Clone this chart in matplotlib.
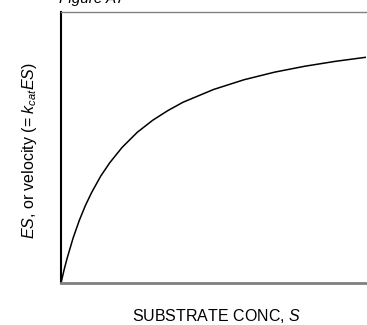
import matplotlib
matplotlib.use("Agg")
import matplotlib.pyplot as plt

plt.rcParams['font.family'] = ['Liberation Sans', 'DejaVu Sans']
plt.rcParams['mathtext.fontset'] = 'custom'
plt.rcParams['mathtext.it'] = 'Liberation Sans:italic'
plt.rcParams['mathtext.rm'] = 'Liberation Sans'

# Curve (substrate concentration vs ES / velocity), axis units 0..1
substrate = [0, 0.005, 0.01, 0.02, 0.04, 0.06, 0.08, 0.10, 0.13, 0.16, 0.20,
             0.25, 0.30, 0.35, 0.40, 0.50, 0.60, 0.70, 0.80, 0.90, 1.00]
velocity = [0, 0.024, 0.048, 0.091, 0.167, 0.231, 0.286, 0.333, 0.394, 0.444, 0.500,
            0.556, 0.600, 0.636, 0.667, 0.714, 0.750, 0.778, 0.800, 0.818, 0.833]

title_text = "Figure A7"
xlabel_text = "SUBSTRATE CONC, $S$"
ylabel_text = "$ES$, or velocity (= $k_{cat}ES$)"

W, H = 367, 325
fig = plt.figure(figsize=(W / 100, H / 100), dpi=100)
ax = fig.add_axes([61/W, 42/H, 305/W, 271/H])

ax.plot(substrate, velocity, color='black', lw=1.1, solid_capstyle='butt')
ax.set_xlim(0, 1)
ax.set_ylim(0, 1)
ax.set_xticks([])
ax.set_yticks([])

ax.spines['right'].set_visible(False)
ax.spines['left'].set_color('black')
ax.spines['left'].set_linewidth(1.5)
ax.spines['bottom'].set_color('#808080')
ax.spines['bottom'].set_linewidth(2.0)
ax.spines['top'].set_color('#808080')
ax.spines['top'].set_linewidth(1.0)

fig.text((61 + 366) / 2 / W + 0.008, 1 - 321/H, xlabel_text, fontsize=11.5,
         ha='center', va='baseline')
fig.text(34/W, 1 - 151/H, ylabel_text, fontsize=11.5, rotation=90,
         rotation_mode='anchor', ha='center', va='baseline')

fig.text(59/W, 1 - 3.5/H, title_text, fontsize=11, style='italic',
         ha='left', va='baseline')

fig.savefig("out.png", dpi=100)
